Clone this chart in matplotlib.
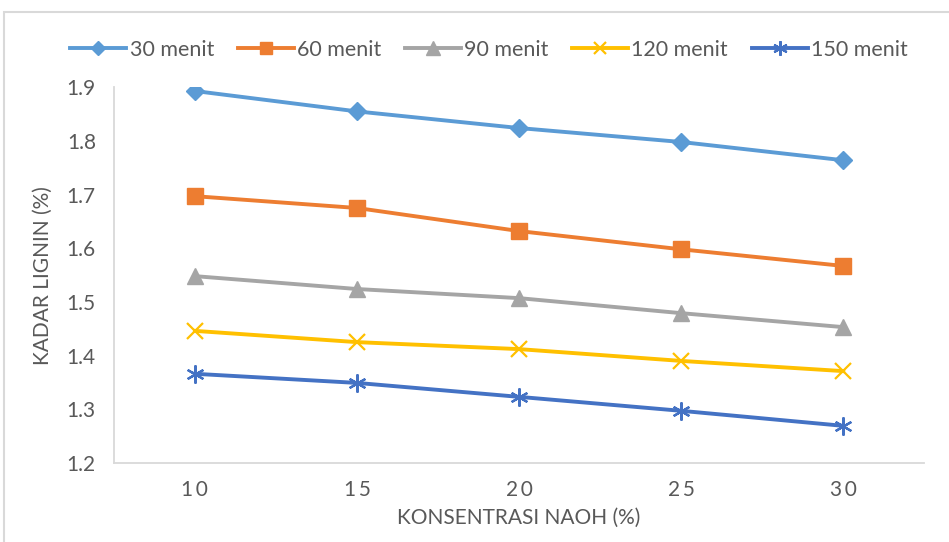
import matplotlib.pyplot as plt
from matplotlib.patches import Rectangle

konsentrasi = ["1\u20090", "1\u20095", "2\u20090", "2\u20095", "3\u20090"]
m30 = [1.893, 1.855, 1.824, 1.798, 1.764]
m60 = [1.697, 1.675, 1.632, 1.598, 1.567]
m90 = [1.548, 1.524, 1.507, 1.479, 1.453]
m120 = [1.446, 1.425, 1.412, 1.390, 1.371]
m150 = [1.366, 1.349, 1.323, 1.297, 1.269]
labels = ["30 menit", "60 menit", "90 menit", "120 menit", "150 menit"]

plt.rcParams['font.family'] = ['Lato', 'DejaVu Sans']
txt = "#595959"

fig = plt.figure(figsize=(9.49, 5.42), dpi=100)
ax = fig.add_axes([0.120, 0.146, 0.854, 0.693])

x = range(len(konsentrasi))
ax.plot(x, m30, color="#5B9BD5", lw=2.8, marker="D", ms=9, label=labels[0])
ax.plot(x, m60, color="#ED7D31", lw=2.8, marker="s", ms=11, label=labels[1])
ax.plot(x, m90, color="#A5A5A5", lw=2.8, marker="^", ms=12, label=labels[2])
ax.plot(x, m120, color="#FFC000", lw=2.8, marker="x", ms=11, mew=1.6, label=labels[3])
ax.plot(x, m150, color="#4472C4", lw=2.8, marker=(6, 2, 0), ms=13, mew=1.6, label=labels[4])

ax.set_xlim(-0.5, 4.5)
ax.set_ylim(1.2, 1.9)
ax.set_xticks(list(x))
ax.set_xticklabels(konsentrasi)
ax.set_yticks([1.2, 1.3, 1.4, 1.5, 1.6, 1.7, 1.8, 1.9])
ax.tick_params(length=0, labelsize=15, colors=txt, pad=13)
ax.tick_params(axis="x", pad=12)
for s in ["top", "right"]:
    ax.spines[s].set_visible(False)
for s in ["left", "bottom"]:
    ax.spines[s].set_color("#D9D9D9")
    ax.spines[s].set_linewidth(1.3)

ax.set_ylabel("KADAR LIGNIN (%)", fontsize=15, color=txt, labelpad=10)
ax.set_xlabel("KONSENTRASI NAOH (%)", fontsize=15, color=txt, labelpad=6)

ax.legend(loc="center", bbox_to_anchor=(489 / 949, 1 - 50 / 542), bbox_transform=fig.transFigure,
          ncol=5, frameon=False, fontsize=15.5, labelcolor=txt, handlelength=2.6,
          handletextpad=0.15, columnspacing=1.1, markerscale=0.8)

fig.add_artist(Rectangle((4 / 949, -0.05), 1.0, 1 - 12 / 542 + 0.05, transform=fig.transFigure,
                         fill=False, edgecolor="#D9D9D9", lw=1.5))

fig.savefig("out.png", dpi=100)
